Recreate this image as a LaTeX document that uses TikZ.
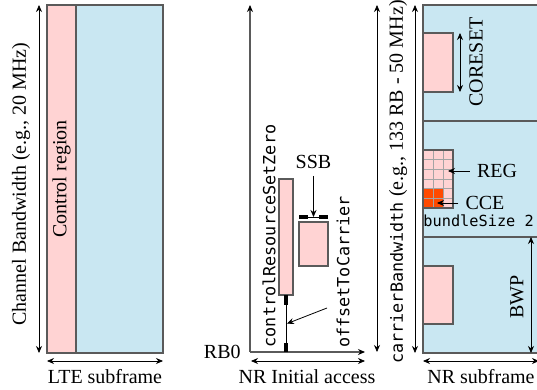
\documentclass[tikz,border=0pt]{standalone}
\usepackage{fontspec}
\setmainfont{Liberation Serif}
\setmonofont[Scale=0.84]{DejaVu Sans Mono}
\usetikzlibrary{arrows.meta,positioning,calc}
\definecolor{Frame}{HTML}{C9E7F2}
\definecolor{Ctrl}{HTML}{FFD3D3}
\definecolor{Cce}{HTML}{FF4A00}
\definecolor{Edge}{HTML}{5A5A5A}

\tikzset{
  region/.style={draw=Edge,line width=0.6pt,fill=#1,inner sep=0pt,outer sep=0pt,anchor=north west},
  dim/.style={{Stealth[length=3.5pt,width=3pt]}-{Stealth[length=3.5pt,width=3pt]},black,line width=0.4pt},
  pointer/.style={-{Stealth[length=3.5pt,width=3pt]},black,line width=0.4pt},
  axis/.style={Edge,line width=0.6pt,-{Stealth[length=3.5pt,width=3pt,black]}},
  vlabel/.style={rotate=90,inner sep=0pt},
  marker/.style={fill=black,inner sep=0pt,outer sep=0pt},
  cell/.style={draw=Edge!55,line width=0.3pt},
}

\begin{document}
\begin{tikzpicture}[x=0.5pt,y=-0.5pt]
        \useasboundingbox (0,0) rectangle (537,390);
        % LTE subframe
        \node[region=Frame,minimum width=58pt,minimum height=174pt] (lte) at (47,5) {};
        \node[region=Ctrl,minimum width=14.5pt,minimum height=174pt] (ctrl) at (47,5) {};
        \node[vlabel] (ctrltext) at (ctrl.center) {Control region};
        \draw[dim] ([xshift=-4pt]lte.south west) -- ([xshift=-4pt]lte.north west);
        \node[vlabel] (ltebw) at (21,184) {Channel Bandwidth (e.g., 20 MHz)};
        \draw[dim] ([yshift=-4pt]lte.south west) -- ([yshift=-4pt]lte.south east);
        \node (ltetext) at (105,377) {LTE subframe};

        % NR initial access
        \coordinate (rb0) at (250,352);
        \coordinate (fmax) at (250,5);
        \coordinate (tmax) at (365,352);
        \draw[axis] (rb0) -- (fmax);
        \draw[axis] (rb0) -- (tmax);
        \node[anchor=east,inner sep=0pt] (rb0text) at (241,352) {RB0};
        \coordinate (ia0) at (251,361);
        \coordinate (ia1) at (365,361);
        \draw[dim] (ia0) -- (ia1);
        \node (iatext) at (307,377) {NR Initial access};

        \node[region=Ctrl,minimum width=7pt,minimum height=58pt] (cs0) at (279,179) {};
        \node[marker,minimum width=1.6pt,minimum height=5pt,anchor=north] (off0) at (cs0.south) {};
        \node[marker,minimum width=1.6pt,minimum height=4.5pt,anchor=south] (off1) at (286,352) {};
        \draw[black,line width=0.5pt] (off0.south) -- (off1.north);
        \coordinate (offmid) at ($(off0.south)!0.5!(off1.north)$);
        \coordinate (offtail) at (327,308);
        \draw[pointer,shorten >=0.5pt] (offtail) -- (offmid);
        \node[vlabel] (cs0text) at (269,236) {\ttfamily controlResourceSetZero};
        \node[vlabel] (offtext) at (343,272) {\ttfamily offsetToCarrier};

        \node[region=Ctrl,minimum width=14.5pt,minimum height=22pt] (ssb) at (299,222) {};
        \node[marker,minimum width=4.5pt,minimum height=2pt,anchor=south west] (ssbl) at ([yshift=1.5pt]ssb.north west) {};
        \node[marker,minimum width=4.5pt,minimum height=2pt,anchor=south east] (ssbr) at ([yshift=1.5pt]ssb.north east) {};
        \draw[black,line width=0.4pt] (ssbl) -- (ssbr);
        \coordinate (ssbmid) at ($(ssbl.east)!0.5!(ssbr.west)$);
        \node (ssbtext) at (313.5,162) {SSB};
        \draw[pointer] (ssbtext) -- (ssbmid);

        \draw[dim] (377,352) coordinate (cbbot) -- (377,5) coordinate (cbtop);
        \node[vlabel] (cbtext) at (398,182) {\texttt{carrierBandwidth} (e.g., 133 RB - 50 MHz)};

        % NR subframe
        \node[region=Frame,minimum width=58pt,minimum height=174pt] (nr) at (423,5) {};
        \foreach \k in {1,2}
          \draw[Edge,line width=0.6pt] ([yshift=-58*\k pt]nr.north west) -- ([yshift=-58*\k pt]nr.north east);
        \draw[dim] ([xshift=-4pt]nr.south west) -- ([xshift=-4pt]nr.north west);

        \node[region=Ctrl,minimum width=15pt,minimum height=29.5pt] (coreset) at (423,33) {};
        \draw[dim] ([xshift=3.5pt]coreset.north east) -- ([xshift=3.5pt]coreset.south east);
        \node[vlabel] (coresettext) at (476,62) {CORESET};

        \node[region=Ctrl,minimum width=15pt,minimum height=29pt] (reg) at (423,150) {};
        \begin{scope}[shift={(reg.north west)}]
          \fill[Cce] (0,38.67) rectangle (20,58);
          \foreach \i in {1,2}
            \draw[cell] (10*\i,0) -- (10*\i,58);
          \foreach \j in {1,...,5}
            \draw[cell] (0,9.667*\j) -- (30,9.667*\j);
        \end{scope}
        \draw[Edge,line width=0.6pt] (reg.north west) rectangle (reg.south east);
        \node (regtext) at (497,171) {REG};
        \coordinate (regcell) at (448,171);
        \draw[pointer] (regtext) -- (regcell);
        \node (ccetext) at (485,203) {CCE};
        \coordinate (ccecell) at (437,203);
        \draw[pointer] (ccetext) -- (ccecell);
        \node[anchor=west,inner sep=0pt,font=\ttfamily\fontsize{9.1}{11}\selectfont] (bundle) at (423,221) {bundleSize 2};

        \node[region=Ctrl,minimum width=15pt,minimum height=29pt] (pdcch) at (423,266) {};
        \draw[dim] ([xshift=-4pt]nr.south east) -- ([xshift=-4pt,yshift=-116pt]nr.north east);
        \node[vlabel] (bwptext) at (517,297) {BWP};
        \draw[dim] ([yshift=-4pt]nr.south west) -- ([yshift=-4pt]nr.south east);
        \node (nrtext) at (481,377) {NR subframe};
      \end{tikzpicture}
\end{document}
